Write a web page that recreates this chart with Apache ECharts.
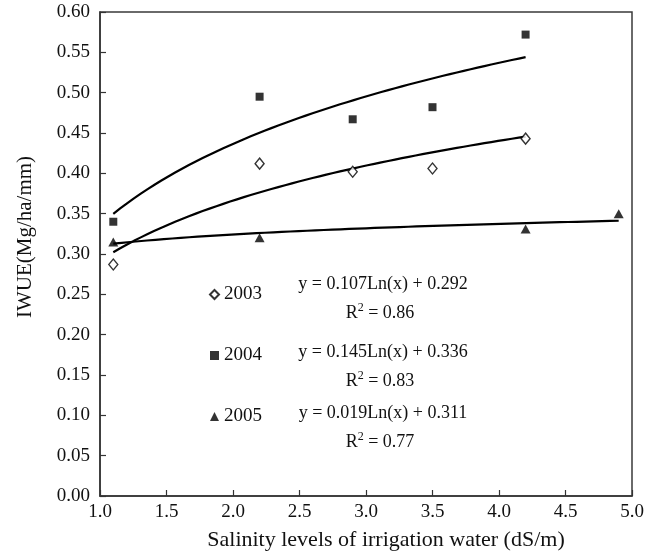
<!DOCTYPE html>
<html>
<head>
<meta charset="utf-8">
<script src="https://cdn.jsdelivr.net/npm/echarts@6/dist/echarts.min.js"></script>
<style>
  html, body { margin: 0; padding: 0; background: #fff; }
  #chart { width: 656px; height: 555px; }
</style>
</head>
<body>
<div id="chart"></div>
<script>
// Irrigation water use efficiency against salinity of irrigation water, three seasons
const years = ['2003', '2004', '2005'];
const salinity2003 = [1.1, 2.2, 2.9, 3.5, 4.2];
const iwue2003 = [0.287, 0.412, 0.402, 0.406, 0.443];
const salinity2004 = [1.1, 2.2, 2.9, 3.5, 4.2];
const iwue2004 = [0.340, 0.495, 0.467, 0.482, 0.572];
const salinity2005 = [1.1, 2.2, 4.2, 4.9];
const iwue2005 = [0.315, 0.320, 0.331, 0.350];

// logarithmic fits y = a·Ln(x) + b, as printed beside the legend
const fitSlope = [0.107, 0.145, 0.019];
const fitIntercept = [0.292, 0.336, 0.311];
const fitR2 = ['0.86', '0.83', '0.77'];

const xAxisMin = 1.0, xAxisMax = 5.0, xAxisStep = 0.5;
const yAxisMin = 0.0, yAxisMax = 0.60, yAxisStep = 0.05;

const FONT = '"Liberation Serif", "Times New Roman", serif';
const INK = '#111';

const salinity = [salinity2003, salinity2004, salinity2005];
const iwue = [iwue2003, iwue2004, iwue2005];

// sample a fitted curve across the salinity range of its own season
function fitCurve(i) {
  const xs = salinity[i];
  const lo = Math.min.apply(null, xs), hi = Math.max.apply(null, xs);
  const pts = [];
  const n = 60;
  for (let k = 0; k <= n; k++) {
    const x = lo + (hi - lo) * k / n;
    pts.push([x, fitSlope[i] * Math.log(x) + fitIntercept[i]]);
  }
  return pts;
}

const markerStyles = [
  { symbol: 'diamond', symbolSize: [9, 11], itemStyle: { color: '#fff', borderColor: '#000', borderWidth: 1.4 } },
  { symbol: 'rect', symbolSize: 8, itemStyle: { color: '#000' } },
  { symbol: 'triangle', symbolSize: [10, 9], itemStyle: { color: '#000' } }
];

const series = [];
years.forEach((yr, i) => {
  series.push({
    name: yr + ' fit',
    type: 'line',
    data: fitCurve(i),
    showSymbol: false,
    silent: true,
    smooth: false,
    lineStyle: { color: '#000', width: 2.2 },
    z: 2
  });
});
years.forEach((yr, i) => {
  series.push(Object.assign({
    name: yr,
    type: 'scatter',
    data: salinity[i].map((x, k) => [x, iwue[i][k]]),
    z: 3
  }, markerStyles[i]));
});

const eqY = [284, 352, 413];
const graphics = [
  {
    type: 'text', x: 25, y: 237, rotation: Math.PI / 2,
    style: { text: 'IWUE(Mg/ha/mm)', font: '21px ' + FONT, fill: INK, align: 'center', verticalAlign: 'middle' }
  },
  {
    type: 'text', x: 386, y: 540,
    style: { text: 'Salinity levels of irrigation water (dS/m)', font: '22px ' + FONT, fill: INK, align: 'center', verticalAlign: 'middle' }
  }
];
years.forEach((yr, i) => {
  graphics.push({
    type: 'text', x: 383, y: eqY[i],
    style: {
      text: 'y = ' + fitSlope[i].toFixed(3) + 'Ln(x) + ' + fitIntercept[i].toFixed(3),
      font: '18px ' + FONT, fill: INK, align: 'center', verticalAlign: 'middle'
    }
  });
  graphics.push({
    type: 'text', x: 380, y: eqY[i] + 28,
    style: {
      text: '{n|R}{s|2}{n| = ' + fitR2[i] + '}',
      align: 'center', verticalAlign: 'middle',
      rich: {
        n: { font: '18px ' + FONT, fill: INK, verticalAlign: 'bottom' },
        s: { font: '12px ' + FONT, fill: INK, verticalAlign: 'bottom', padding: [0, 0, 8, 0] }
      }
    }
  });
});

const chart = echarts.init(document.getElementById('chart'), null, { renderer: 'canvas' });
chart.setOption({
  animation: false,
  backgroundColor: '#fff',
  grid: {
    left: 100, right: 24, top: 12, bottom: 59,
    show: true, borderColor: '#3a3a3a', borderWidth: 1.5, backgroundColor: 'transparent'
  },
  xAxis: {
    type: 'value', min: xAxisMin, max: xAxisMax, interval: xAxisStep,
    axisLine: { show: true, lineStyle: { color: '#333', width: 1.5 } },
    axisTick: { show: true, inside: true, length: 6, lineStyle: { color: '#333', width: 1.2 } },
    axisLabel: { margin: 7, fontFamily: FONT, fontSize: 19, color: INK, formatter: v => v.toFixed(1) },
    splitLine: { show: false }
  },
  yAxis: {
    type: 'value', min: yAxisMin, max: yAxisMax, interval: yAxisStep,
    axisLine: { show: true, lineStyle: { color: '#333', width: 1.5 } },
    axisTick: { show: true, inside: true, length: 6, lineStyle: { color: '#333', width: 1.2 } },
    axisLabel: { margin: 10, fontFamily: FONT, fontSize: 19, color: INK, formatter: v => v.toFixed(2) },
    splitLine: { show: false }
  },
  legend: {
    data: years,
    orient: 'vertical',
    left: 204, top: 280,
    itemWidth: 9, itemHeight: 9, itemGap: 42,
    textStyle: { fontFamily: FONT, fontSize: 19, color: INK },
    selectedMode: false
  },
  graphic: graphics,
  series: series
});
</script>
</body>
</html>
